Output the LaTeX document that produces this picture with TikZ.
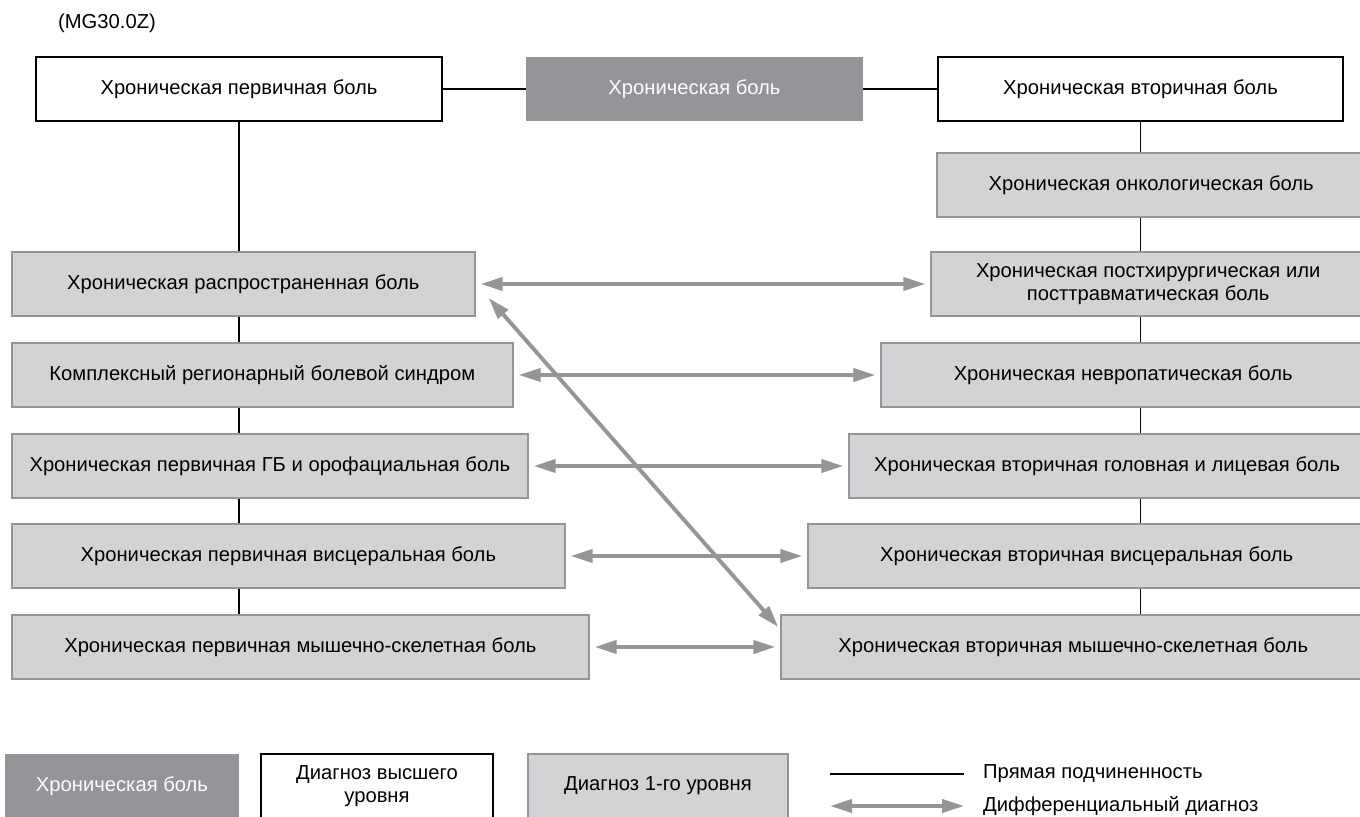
\documentclass[tikz,border=0pt]{standalone}
\usepackage{fontspec}
\setmainfont{Liberation Sans}
\usepackage{xcolor}
\usetikzlibrary{positioning,arrows.meta}
\definecolor{rootgray}{RGB}{147,149,152}
\definecolor{levgray}{RGB}{209,211,212}

\begin{document}
\begin{tikzpicture}[
    x=0.02cm, y=-0.02cm,
    every node/.style={font=\fontsize{11.5}{13.5}\selectfont},
    box/.style={rectangle, minimum height=1.28cm, inner sep=2pt, align=center},
    topbox/.style={box, draw=black, line width=1.2pt, fill=white},
    rootbox/.style={box, fill=rootgray, text=white},
    levbox/.style={box, draw=rootgray, line width=1pt, fill=levgray},
    sub/.style={draw=black, line width=1pt},
    diff/.style={{Triangle[length=0.44cm,width=0.26cm]}-{Triangle[length=0.44cm,width=0.26cm]}, draw=rootgray, line width=2.2pt, shorten <=0.1cm, shorten >=0.1cm}
]
\useasboundingbox (0,0) rectangle (1360,816);
\clip (0,0) rectangle (1360,816);

% Top row
\node (code) at (107,23) {(MG30.0Z)};
\node (tl) [topbox, minimum width=8.12cm]  at (239,89)    {Хроническая первичная боль};
\node (cb) [rootbox, minimum width=6.74cm] at (694.5,89)  {Хроническая боль};
\node (tr) [topbox, minimum width=8.1cm]   at (1140.5,89) {Хроническая вторичная боль};

% Primary column
\node (b1) [levbox, minimum width=9.26cm, anchor=west]  at (11,284) {Хроническая распространенная боль};
\node (b2) [levbox, minimum width=10.02cm, anchor=west] at (11,375) {Комплексный регионарный болевой синдром};
\node (b3) [levbox, minimum width=10.32cm, anchor=west] at (11,466) {Хроническая первичная ГБ и орофациальная боль};
\node (b4) [levbox, minimum width=11.06cm, anchor=west] at (11,556) {Хроническая первичная висцеральная боль};
\node (b5) [levbox, minimum width=11.54cm, anchor=west] at (11,647) {Хроническая первичная мышечно-скелетная боль};

% Secondary column
\node (on) [levbox, minimum width=8.56cm, anchor=east]  at (1366,185) {Хроническая онкологическая боль};
\node (ps) [levbox, minimum width=8.68cm, anchor=east]  at (1366,284) {Хроническая постхирургическая или\\посттравматическая боль};
\node (nr) [levbox, minimum width=9.68cm, anchor=east]  at (1366,375) {Хроническая невропатическая боль};
\node (hd) [levbox, minimum width=10.32cm, anchor=east] at (1366,466) {Хроническая вторичная головная и лицевая боль};
\node (vs) [levbox, minimum width=11.14cm, anchor=east] at (1366,556) {Хроническая вторичная висцеральная боль};
\node (ms) [levbox, minimum width=11.68cm, anchor=east] at (1366,647) {Хроническая вторичная мышечно-скелетная боль};

% Legend
\node (lgroot) [rootbox, minimum width=4.68cm] at (122,786) {Хроническая боль};
\node (lgtop)  [topbox, minimum width=4.64cm]  at (377,786) {Диагноз высшего\\уровня};
\node (lglev)  [levbox, minimum width=5.2cm]   at (658,786) {Диагноз 1-го уровня};
\node (lgsub)  [anchor=west] at (977,774) {Прямая подчиненность};
\node (lgdiff) [below=0.64cm of lgsub.west, anchor=west] {Дифференциальный диагноз};

% Subordination lines
\draw[sub, line width=1.2pt] (tl) -- (cb);
\draw[sub, line width=1.2pt] (cb) -- (tr);
\draw[sub] (tl.south) -- (tl.south |- b1.north);
\draw[sub] (tl.south |- b1.south) -- (tl.south |- b2.north);
\draw[sub] (tl.south |- b2.south) -- (tl.south |- b3.north);
\draw[sub] (tl.south |- b3.south) -- (tl.south |- b4.north);
\draw[sub] (tl.south |- b4.south) -- (tl.south |- b5.north);
\draw[sub] (tr.south) -- (tr.south |- on.north);
\draw[sub] (tr.south |- on.south) -- (tr.south |- ps.north);
\draw[sub] (tr.south |- ps.south) -- (tr.south |- nr.north);
\draw[sub] (tr.south |- nr.south) -- (tr.south |- hd.north);
\draw[sub] (tr.south |- hd.south) -- (tr.south |- vs.north);
\draw[sub] (tr.south |- vs.south) -- (tr.south |- ms.north);

% Differential diagnosis
\draw[diff] (b1) -- (ps);
\draw[diff] (b2) -- (nr);
\draw[diff] (b3) -- (hd);
\draw[diff] (b4) -- (vs);
\draw[diff] (b5) -- (ms);
\draw[diff, shorten <=0pt, shorten >=0pt] ([xshift=0.26cm,yshift=0.38cm]b1.south east) -- ([xshift=-0.04cm,yshift=-0.26cm]ms.north west);

% Legend lines
\draw[sub, line width=1.4pt] ([xshift=-2.94cm]lgsub.west) -- ([xshift=-0.26cm]lgsub.west);
\draw[diff, shorten <=0pt, shorten >=0pt] ([xshift=-2.94cm]lgdiff.west) -- ([xshift=-0.26cm]lgdiff.west);
\end{tikzpicture}
\end{document}
